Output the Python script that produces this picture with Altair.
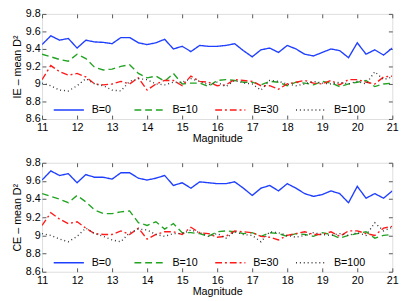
import altair as alt
import pandas as pd

mags = [11.0, 11.25, 11.5, 11.75, 12.0, 12.25, 12.5, 12.75, 13.0, 13.25, 13.5, 13.75,
        14.0, 14.25, 14.5, 14.75, 15.0, 15.25, 15.5, 15.75, 16.0, 16.25, 16.5, 16.75,
        17.0, 17.25, 17.5, 17.75, 18.0, 18.25, 18.5, 18.75, 19.0, 19.25, 19.5, 19.75,
        20.0, 20.25, 20.5, 20.75, 21.0]

series_names = ["B=0", "B=10", "B=30", "B=100"]

# IE panel
ie_b0 = [9.45, 9.55, 9.50, 9.52, 9.41, 9.50, 9.48, 9.475, 9.46, 9.53, 9.53, 9.47,
         9.45, 9.47, 9.51, 9.40, 9.43, 9.37, 9.44, 9.43, 9.43, 9.44, 9.46, 9.38,
         9.31, 9.39, 9.41, 9.36, 9.44, 9.40, 9.34, 9.32, 9.36, 9.40, 9.38, 9.30,
         9.47, 9.34, 9.39, 9.33, 9.41]
ie_b10 = [9.34, 9.31, 9.28, 9.26, 9.34, 9.29, 9.19, 9.16, 9.17, 9.20, 9.22, 9.12,
          9.07, 9.09, 9.03, 9.12, 9.00, 9.01, 9.01, 8.97, 9.04, 9.05, 9.04, 9.02,
          9.02, 8.99, 9.03, 9.02, 8.98, 9.02, 9.01, 8.99, 9.03, 9.01, 8.97, 9.00,
          9.02, 9.04, 8.97, 9.00, 9.01]
ie_b30 = [9.05, 9.21, 9.14, 9.10, 9.12, 9.08, 9.00, 8.99, 9.00, 9.03, 9.00, 9.07,
          8.93, 9.00, 9.04, 9.04, 8.98, 9.09, 9.03, 9.02, 8.98, 8.99, 9.05, 9.04,
          9.03, 8.98, 8.98, 8.94, 9.00, 9.02, 9.04, 9.01, 9.00, 9.04, 8.99, 9.05,
          9.05, 9.02, 9.00, 9.08, 9.09]
ie_b100 = [9.01, 8.98, 8.93, 8.92, 8.98, 9.06, 9.00, 8.98, 8.93, 8.92, 9.03, 9.06,
           9.05, 9.00, 8.99, 9.02, 9.02, 9.06, 9.03, 8.99, 9.02, 8.97, 9.04, 9.01,
           9.00, 8.93, 9.04, 9.03, 9.00, 8.98, 9.00, 9.03, 9.01, 9.00, 9.02, 9.00,
           9.03, 9.00, 9.14, 9.05, 9.08]

# CE panel
ce_b0 = [9.61, 9.71, 9.66, 9.68, 9.58, 9.67, 9.64, 9.64, 9.62, 9.69, 9.69, 9.63,
         9.61, 9.63, 9.66, 9.55, 9.58, 9.52, 9.59, 9.58, 9.57, 9.57, 9.59, 9.52,
         9.44, 9.52, 9.55, 9.49, 9.57, 9.52, 9.46, 9.43, 9.45, 9.49, 9.46, 9.36,
         9.54, 9.41, 9.46, 9.41, 9.49]
ce_b10 = [9.46, 9.43, 9.40, 9.36, 9.44, 9.37, 9.28, 9.24, 9.24, 9.26, 9.27, 9.14,
          9.11, 9.15, 9.07, 9.13, 9.03, 9.03, 9.02, 8.99, 9.04, 9.05, 9.04, 9.02,
          9.03, 8.99, 9.03, 9.02, 8.99, 9.02, 9.01, 8.99, 9.03, 9.01, 8.97, 9.00,
          9.02, 9.04, 8.97, 9.00, 9.01]
ce_b30 = [9.11, 9.25, 9.18, 9.13, 9.15, 9.08, 9.02, 9.01, 9.01, 9.05, 9.01, 9.08,
          8.96, 9.01, 9.04, 9.04, 9.01, 9.09, 9.03, 9.02, 8.98, 8.99, 9.05, 9.04,
          9.03, 8.99, 8.98, 8.95, 9.00, 9.02, 9.04, 9.01, 9.01, 9.04, 8.99, 9.05,
          9.05, 9.02, 9.00, 9.08, 9.10]
ce_b100 = [9.02, 9.00, 8.96, 8.93, 8.99, 9.08, 9.02, 8.99, 8.95, 8.93, 9.03, 9.07,
           9.06, 9.01, 8.99, 9.02, 9.02, 9.06, 9.03, 8.99, 9.02, 8.97, 9.04, 9.01,
           9.00, 8.93, 9.04, 9.03, 9.00, 8.98, 9.00, 9.03, 9.01, 9.00, 9.02, 9.00,
           9.03, 9.00, 9.14, 9.05, 9.09]

x_ticks = [11, 12, 13, 14, 15, 16, 17, 18, 19, 20, 21]
y_ticks = [8.6, 8.8, 9.0, 9.2, 9.4, 9.6, 9.8]

colors = ["#1f3fff", "#22a322", "#ff1a1a", "#333333"]
dashes = [[1, 0], [7, 4], [7, 3, 2, 3], [1, 3]]

FONT = "Liberation Sans"
XSCALE = alt.Scale(domain=[11, 21], nice=False, zero=False)
YSCALE = alt.Scale(domain=[8.6, 9.8], nice=False, zero=False)


def make_df(lists):
    rows = []
    for name, vals in zip(series_names, lists):
        for m, v in zip(mags, vals):
            rows.append({"mag": m, "val": v, "series": name})
    return pd.DataFrame(rows)


def panel(df, ytitle, h):
    leg = alt.Legend(
        title=None, orient="none", legendX=11, legendY=h - 26,
        direction="horizontal", columns=4, gridAlign="all", columnPadding=8,
        symbolType="stroke", symbolSize=961, symbolStrokeWidth=1.5,
        labelFont=FONT, labelFontSize=11, labelColor="#000000", labelOffset=7,
        padding=0,
    )
    lines = alt.Chart(df).mark_line(strokeWidth=1.4, clip=True).encode(
        x=alt.X("mag:Q", scale=XSCALE,
                axis=alt.Axis(values=x_ticks, title="Magnitude", offset=-4, tickSize=4,
                              domain=False, grid=False, labelPadding=3, titlePadding=0,
                              labelFont=FONT, titleFont=FONT, labelFontSize=11,
                              titleFontSize=11, titleFontWeight="normal",
                              labelColor="#000000", titleColor="#000000",
                              tickColor="#555555", labelFlush=False)),
        y=alt.Y("val:Q", scale=YSCALE,
                axis=alt.Axis(values=y_ticks, format="~g", title=ytitle, offset=-4,
                              tickSize=4, domain=False, grid=False, labelPadding=2,
                              titlePadding=3, labelFont=FONT, titleFont=FONT,
                              labelFontSize=11, titleFontSize=11,
                              titleFontWeight="normal", labelColor="#000000",
                              titleColor="#000000", tickColor="#555555",
                              labelFlush=False)),
        color=alt.Color("series:N", scale=alt.Scale(domain=series_names, range=colors),
                        legend=leg),
        strokeDash=alt.StrokeDash("series:N",
                                  scale=alt.Scale(domain=series_names, range=dashes),
                                  legend=leg),
        order=alt.Order("mag:Q"),
    )
    # invisible layer that carries the top and right tick marks of the box
    frame = alt.Chart(df).mark_line(opacity=0).encode(
        x=alt.X("mag:Q", scale=XSCALE,
                axis=alt.Axis(values=x_ticks, orient="top", title=None, labels=False,
                              offset=-4, tickSize=4, domain=False, grid=False,
                              tickColor="#555555")),
        y=alt.Y("val:Q", scale=YSCALE,
                axis=alt.Axis(values=y_ticks, orient="right", title=None, labels=False,
                              offset=-4, tickSize=4, domain=False, grid=False,
                              tickColor="#555555")),
        detail="series:N",
    )
    return alt.layer(lines, frame).resolve_axis(
        x="independent", y="independent"
    ).properties(width=360, height=h)


top = panel(make_df([ie_b0, ie_b10, ie_b30, ie_b100]), "IE – mean D²", 108)
bottom = panel(make_df([ce_b0, ce_b10, ce_b30, ce_b100]), "CE – mean D²", 112)

chart = alt.vconcat(top, bottom, spacing=12).resolve_legend(
    color="independent", strokeDash="independent"
).resolve_scale(color="independent", strokeDash="independent").properties(
    padding={"left": 3, "top": -5, "right": 4, "bottom": 0}
).configure_view(stroke="#555555", strokeWidth=1).configure(background="white")

chart.save("out.html", embed_options={"renderer": "svg", "actions": False})
